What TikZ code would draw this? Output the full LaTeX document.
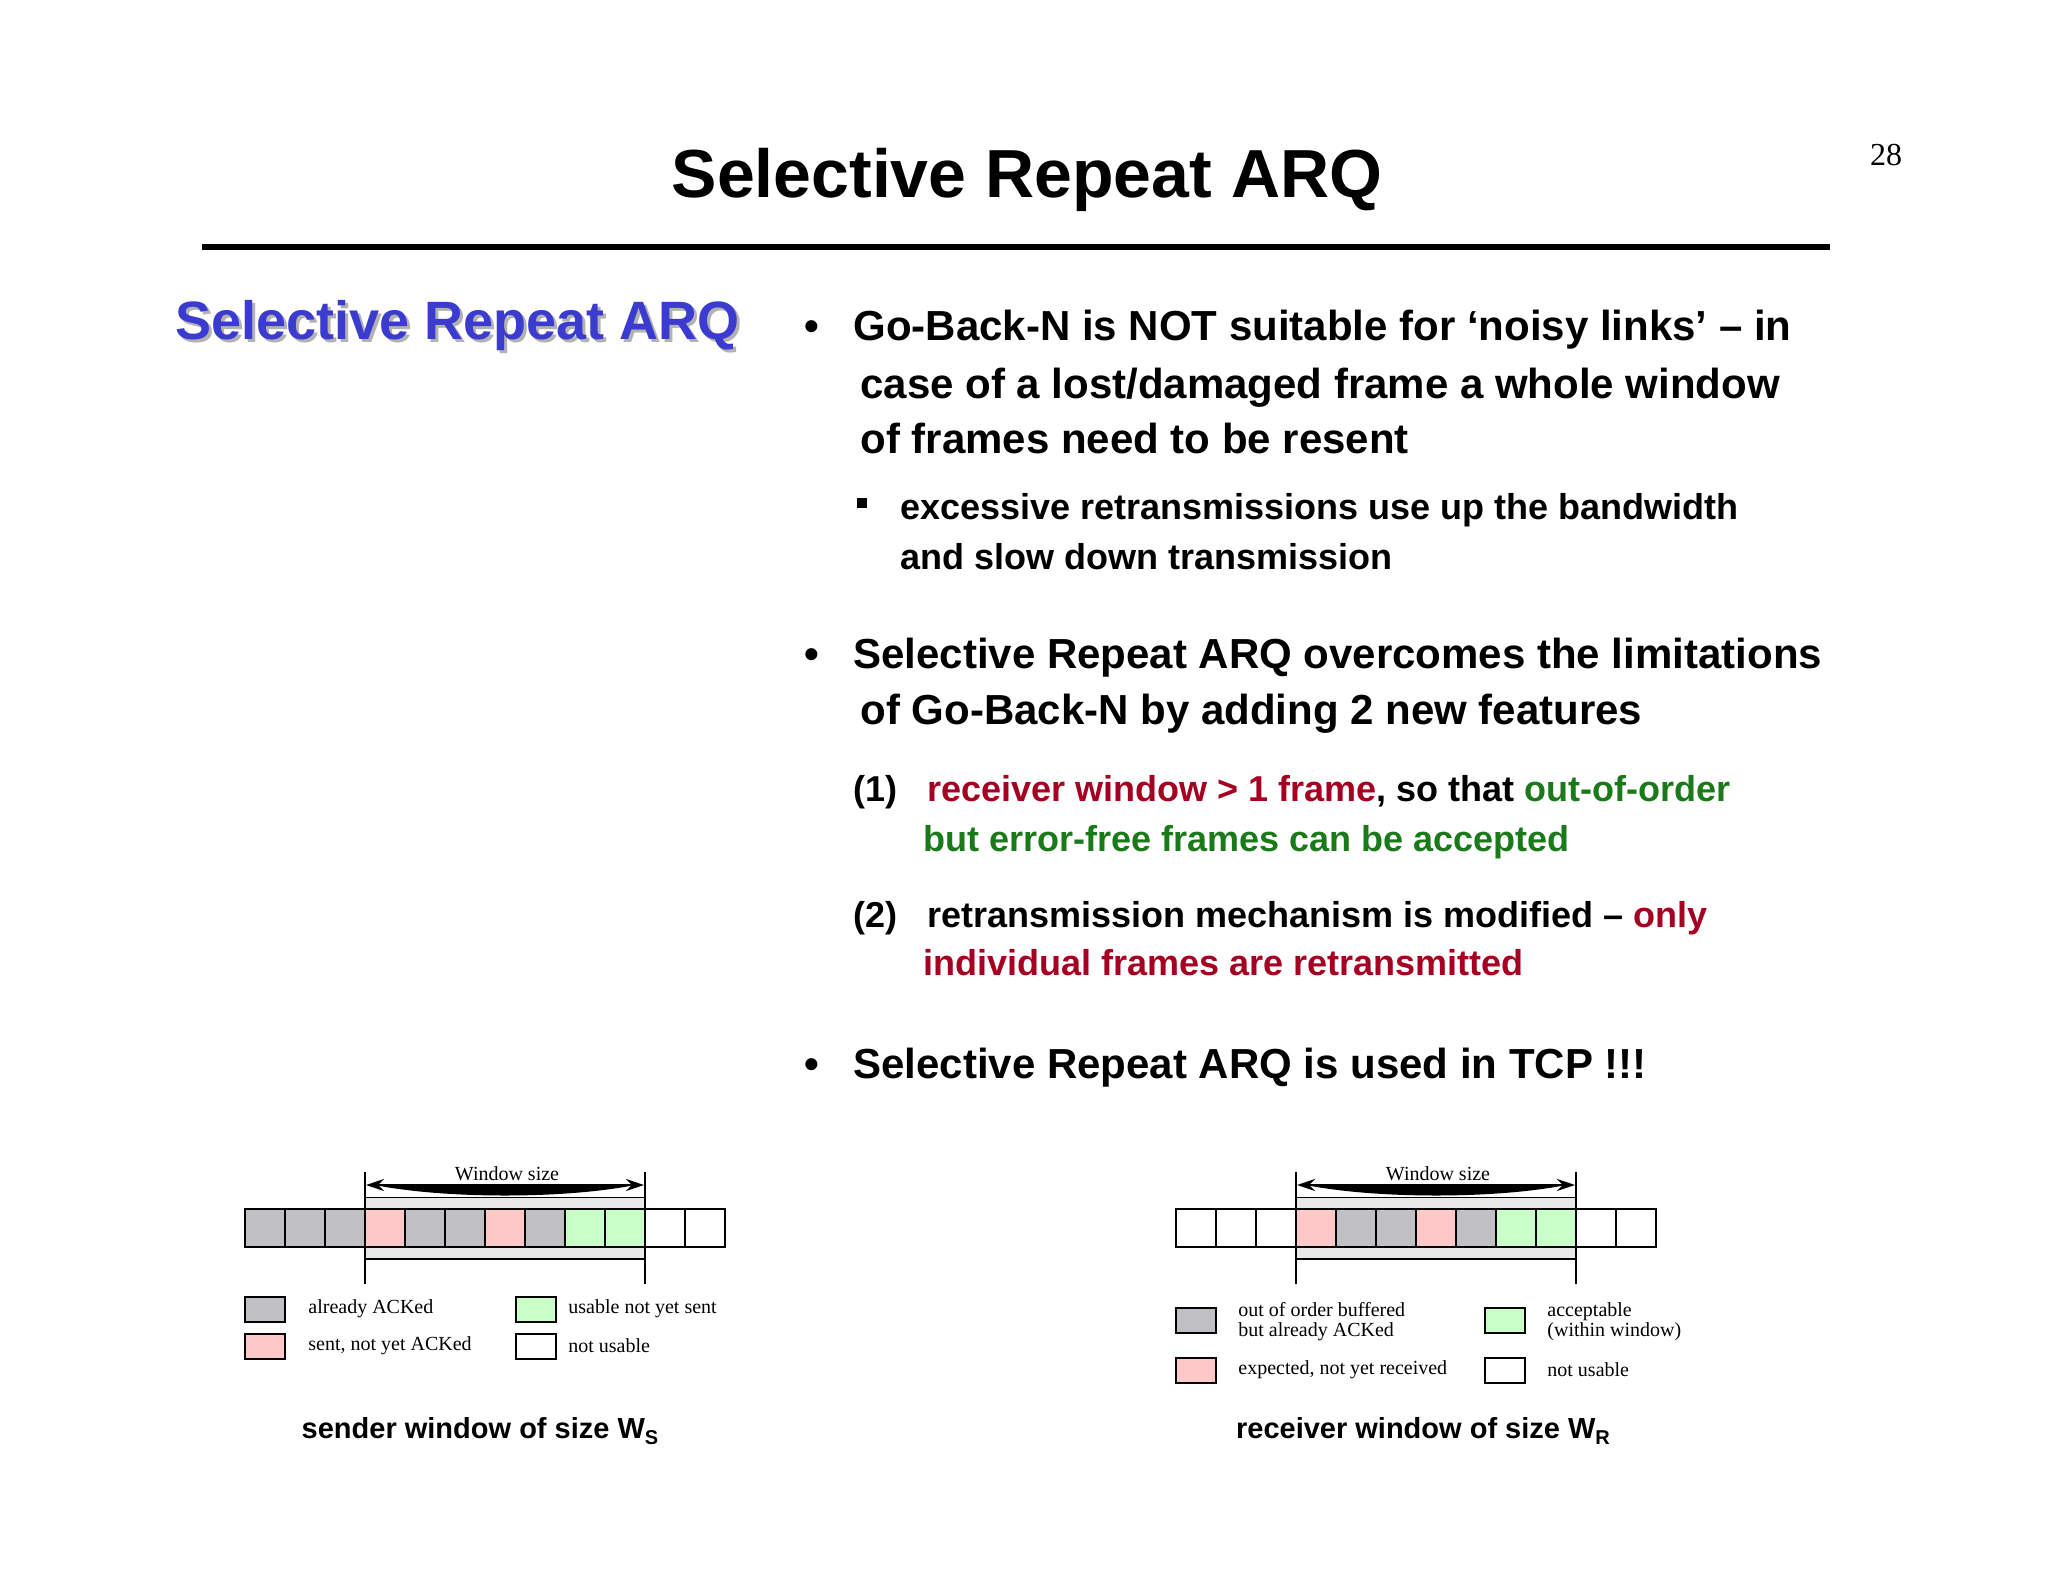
\documentclass[tikz,border=0pt]{standalone}
\usepackage{fontspec}
\usetikzlibrary{arrows.meta}
\setmainfont{Liberation Sans}
\newfontfamily\serif{Liberation Serif}
\definecolor{cgray}{HTML}{C0BFC4}
\definecolor{cpink}{HTML}{FFC8C8}
\definecolor{cgreen}{HTML}{C8FFC8}
\definecolor{cband}{HTML}{E8E8E8}
\definecolor{dred}{HTML}{A50021}
\definecolor{dgreen}{HTML}{1A7A1A}
\definecolor{hblue}{HTML}{3B3BD0}
\begin{document}
\begin{tikzpicture}[x=0.5pt,y=-0.5pt,
  body/.style={anchor=base west,inner sep=0,font=\fontsize{21}{25}\selectfont\bfseries},
  sub/.style={anchor=base west,inner sep=0,font=\fontsize{18}{22}\selectfont\bfseries},
  leg/.style={anchor=west,inner sep=0,font=\serif\fontsize{10}{10.5}\selectfont,align=left},
  captext/.style={anchor=base,inner sep=0,font=\fontsize{14.5}{17}\selectfont\bfseries},
  cell/.style={draw=black,line width=1.2pt},
  lbox/.style={draw=black,line width=0.8pt}]
\useasboundingbox (0,0) rectangle (2048,1582);
\fill[white] (0,0) rectangle (2048,1582);
% title
\node[anchor=base,inner sep=0,font=\fontsize{34}{40}\selectfont\bfseries] (title) at (1027,198) {Selective Repeat ARQ};
\node[anchor=base,inner sep=0,font=\serif\fontsize{16}{18}\selectfont] (pno) at (1886,166) {28};
\fill[black] (202,244) rectangle (1830,250);
% heading with shadow
\node[anchor=base west,inner sep=0,font=\fontsize{27}{30}\selectfont\bfseries,text=gray!60] (hs) at (178,343) {Selective Repeat ARQ};
\node[anchor=base west,inner sep=0,font=\fontsize{27}{30}\selectfont\bfseries,text=hblue] (h) at (175,340) {Selective Repeat ARQ};
% bullets
\foreach \n/\y in {b1/341,b2/668,b3/1078}{\node[body] (\n) at (804,\y) {•};}
\node[body] (l1) at (853,341) {Go-Back-N is NOT suitable for ‘noisy links’ – in};
\node[body] (l2) at (860,399) {case of a lost/damaged frame a whole window};
\node[body] (l3) at (860,454) {of frames need to be resent};
\fill (857,498) rectangle (867,508);
\node[sub] (s1) at (900,520) {excessive retransmissions use up the bandwidth};
\node[sub] (s2) at (900,569) {and slow down transmission};
\node[body] (m1) at (853,668) {Selective Repeat ARQ overcomes the limitations};
\node[body] (m2) at (860,724) {of Go-Back-N by adding 2 new features};
\node[sub] (n1) at (853,801) {(1)};
\node[sub] (n1t) at (927,801) {\textcolor{dred}{receiver window > 1 frame}, so that \textcolor{dgreen}{out-of-order}};
\node[sub,text=dgreen] (n1u) at (923,851) {but error-free frames can be accepted};
\node[sub] (n2) at (853,927) {(2)};
\node[sub] (n2t) at (927,927) {retransmission mechanism is modified – \textcolor{dred}{only}};
\node[sub,text=dred] (n2u) at (923,975) {individual frames are retransmitted};
\node[body] (t1) at (853,1078) {Selective Repeat ARQ is used in TCP !!!};
% windows
\foreach \ox/\cols/\wn in {245/{cgray,cgray,cgray,cpink,cgray,cgray,cpink,cgray,cgreen,cgreen,white,white}/S,
                          1176/{white,white,white,cpink,cgray,cgray,cpink,cgray,cgreen,cgreen,white,white}/R}{
  \fill[cband] (\ox+120,1197) rectangle (\ox+400,1259);
  \draw[line width=0.5pt] (\ox+120,1197) -- (\ox+400,1197);
  \draw[line width=1pt] (\ox+120,1259) -- (\ox+400,1259);
  \foreach \c [count=\i from 0] in \cols {
    \draw[cell,fill=\c] (\ox+40*\i,1209) rectangle (\ox+40*\i+40,1247);
  }
  \draw[line width=0.7pt] (\ox+120,1172) -- (\ox+120,1284);
  \draw[line width=0.7pt] (\ox+400,1172) -- (\ox+400,1284);
  \fill (\ox+130,1185) .. controls (\ox+200,1199) and (\ox+320,1199) .. (\ox+390,1185) -- cycle;
  \draw[line width=1.2pt,{Stealth[length=9pt,width=6pt]}-{Stealth[length=9pt,width=6pt]}] (\ox+121,1185) -- (\ox+399,1185);
  \node[anchor=base,inner sep=0,font=\serif\fontsize{10}{11}\selectfont,fill=white,inner xsep=1pt] (ws\wn) at (\ox+262,1180) {Window size};
}
% sender legend
\draw[lbox,fill=cgray] (245,1297) rectangle (285,1322);
\draw[lbox,fill=cpink] (245,1334) rectangle (285,1359);
\draw[lbox,fill=cgreen] (516,1297) rectangle (556,1322);
\draw[lbox,fill=white] (516,1334) rectangle (556,1359);
\node[leg] (sl1) at (308,1309) {already ACKed};
\node[leg] (sl2) at (308,1346) {sent, not yet ACKed};
\node[leg] (sl3) at (568,1309) {usable not yet sent};
\node[leg] (sl4) at (568,1346) {not usable};
\node[captext] (sc) at (480,1438) {sender window of size W\raisebox{-0.45ex}{\fontsize{10}{10}\selectfont S}};
% receiver legend
\draw[lbox,fill=cgray] (1176,1308) rectangle (1216,1333);
\draw[lbox,fill=cpink] (1176,1358) rectangle (1216,1383);
\draw[lbox,fill=cgreen] (1485,1308) rectangle (1525,1333);
\draw[lbox,fill=white] (1485,1358) rectangle (1525,1383);
\node[leg,font=\serif\fontsize{10}{10}\selectfont] (rl1) at (1238,1322) {out of order buffered\\but already ACKed};
\node[leg] (rl2) at (1238,1370) {expected, not yet received};
\node[leg,font=\serif\fontsize{10}{10}\selectfont] (rl3) at (1547,1322) {acceptable\\(within window)};
\node[leg] (rl4) at (1547,1370) {not usable};
\node[captext] (rc) at (1423,1438) {receiver window of size W\raisebox{-0.45ex}{\fontsize{10}{10}\selectfont R}};
\end{tikzpicture}
\end{document}
